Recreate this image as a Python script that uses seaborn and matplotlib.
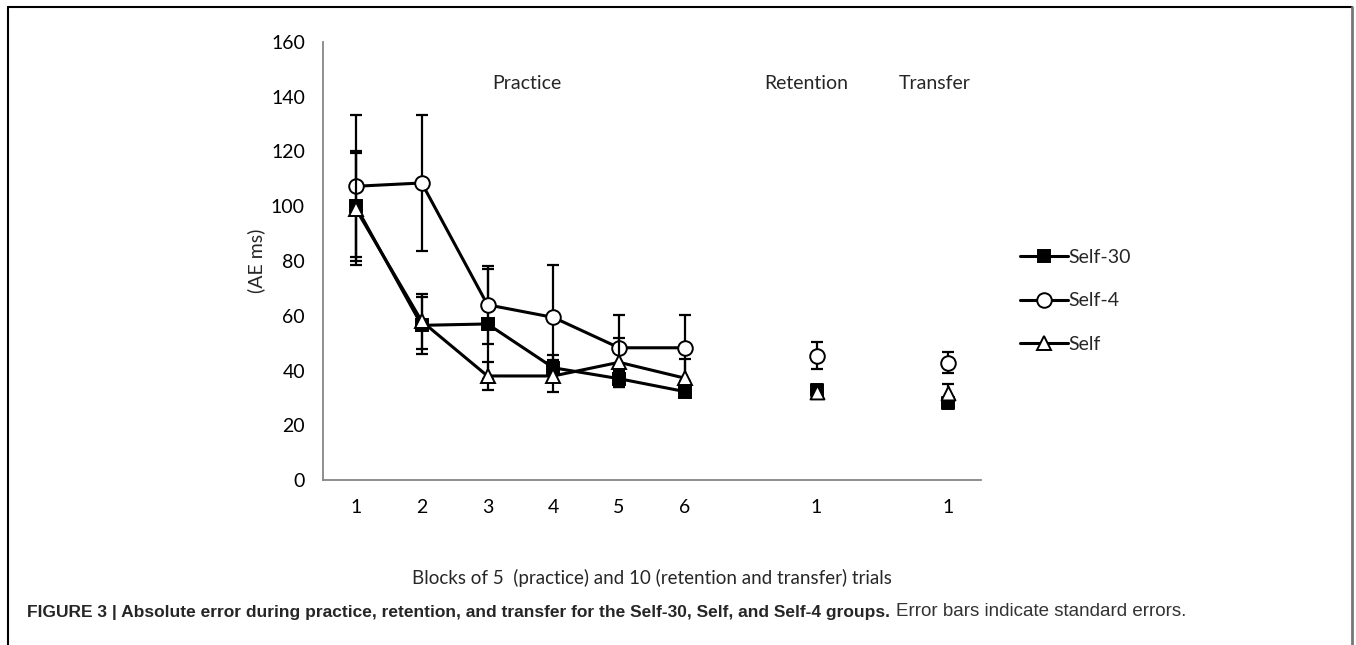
import numpy as np
import pandas as pd
import matplotlib
matplotlib.use('Agg')
import matplotlib.pyplot as plt
from matplotlib.lines import Line2D
import seaborn as sns

# Dữ liệu (AE ms)
groups = ['Self-30', 'Self-4', 'Self']
tick_labels = ['1', '2', '3', '4', '5', '6', '', '1', '', '1']
practice_pos = [0, 1, 2, 3, 4, 5]
test_pos = [7, 9]  # retention, transfer

practice_mean = {
    'Self-30': [100.0, 56.5, 57.0, 41.0, 37.0, 32.3],
    'Self-4': [107.3, 108.5, 64.0, 59.4, 48.3, 48.3],
    'Self': [99.0, 58.0, 38.0, 38.0, 43.0, 37.2],
}
practice_se = {
    'Self-30': [20.0, 10.5, 20.0, 4.5, 3.0, 1.5],
    'Self-4': [26.0, 25.0, 14.3, 19.0, 12.0, 12.0],
    'Self': [20.5, 10.0, 5.0, 6.0, 9.0, 7.0],
}
test_mean = {
    'Self-30': [33.0, 28.0],
    'Self-4': [45.4, 42.8],
    'Self': [32.0, 31.8],
}
test_se = {
    'Self-30': [1.0, 1.0],
    'Self-4': [5.0, 3.8],
    'Self': [1.0, 3.2],
}

markers = {'Self-30': 's', 'Self-4': 'o', 'Self': '^'}
mfc = {'Self-30': 'black', 'Self-4': 'white', 'Self': 'white'}
msize = {'Self-30': 8.5, 'Self-4': 10.5, 'Self': 10}

rows = []
for g in groups:
    for p, m, s in zip(practice_pos, practice_mean[g], practice_se[g]):
        rows.append({'group': g, 'pos': p, 'ae': m, 'se': s, 'phase': 'practice'})
    for p, m, s in zip(test_pos, test_mean[g], test_se[g]):
        rows.append({'group': g, 'pos': p, 'ae': m, 'se': s, 'phase': 'test'})
df = pd.DataFrame(rows)

sns.set_style('white')
plt.rcParams['font.family'] = ['Lato', 'DejaVu Sans']

fig = plt.figure(figsize=(13.56, 6.45), dpi=100)
ax = fig.add_axes([323 / 1356, 1 - 480 / 645, (981 - 323) / 1356, (480 - 42) / 645])

for z, g in enumerate(groups):
    sub = df[(df['group'] == g) & (df['phase'] == 'practice')]
    ax.errorbar(sub['pos'], sub['ae'], yerr=sub['se'], fmt='none',
                ecolor='black', elinewidth=1.6, capsize=4.5, capthick=1.6, zorder=2 + z)
    sns.lineplot(data=sub, x='pos', y='ae', ax=ax, color='black', linewidth=2.2,
                 marker=markers[g], markersize=msize[g], markerfacecolor=mfc[g],
                 markeredgecolor='black', markeredgewidth=1.4, zorder=2 + z,
                 errorbar=None, label=g)
    tst = df[(df['group'] == g) & (df['phase'] == 'test')]
    ax.errorbar(tst['pos'], tst['ae'], yerr=tst['se'], fmt='none',
                ecolor='black', elinewidth=1.6, capsize=4.5, capthick=1.6, zorder=2 + z)
    sns.scatterplot(data=tst, x='pos', y='ae', ax=ax, marker=markers[g],
                    s=msize[g] ** 2, color=mfc[g], edgecolor='black',
                    linewidth=1.4, zorder=3 + z, legend=False)

ax.set_xlim(-0.5, 9.5)
ax.set_ylim(0, 160)
ax.set_yticks(np.arange(0, 161, 20))
ax.set_xticks(range(len(tick_labels)))
ax.set_xticklabels(tick_labels)
ax.tick_params(axis='both', labelsize=14, colors='#868686', length=5, width=1,
               direction='out', labelcolor='black', pad=8)
ax.tick_params(axis='x', pad=9)
for side in ['top', 'right']:
    ax.spines[side].set_visible(False)
for side in ['left', 'bottom']:
    ax.spines[side].set_color('#868686')
    ax.spines[side].set_linewidth(1.3)

ax.set_xlabel('Blocks of 5  (practice) and 10 (retention and transfer) trials',
              fontsize=13.5, labelpad=38)
ax.set_ylabel('(AE ms)', fontsize=14, labelpad=4)

ax.text(2.6, 145, 'Practice', fontsize=14, ha='center', va='center')
ax.text(6.85, 145, 'Retention', fontsize=14, ha='center', va='center')
ax.text(8.8, 145, 'Transfer', fontsize=14, ha='center', va='center')

handles = [Line2D([0], [0], color='black', linewidth=2.2, marker=markers[g],
                  markersize=msize[g], markerfacecolor=mfc[g],
                  markeredgecolor='black', markeredgewidth=1.4) for g in groups]
if ax.get_legend():
    ax.get_legend().remove()
fig.legend(handles, groups, loc='center left', bbox_to_anchor=(1012 / 1356, 1 - 301 / 645),
           frameon=False, fontsize=14, handlelength=2.5, handletextpad=0.0,
           labelspacing=1.35, borderaxespad=0)

# khung bao quanh hình
fig.add_artist(Line2D([8 / 1356, 8 / 1356], [0, 1 - 7 / 645], color='black', linewidth=1.5,
                      transform=fig.transFigure))
fig.add_artist(Line2D([8 / 1356, 1352 / 1356], [1 - 7 / 645, 1 - 7 / 645], color='black',
                      linewidth=1.5, transform=fig.transFigure))
fig.add_artist(Line2D([1352 / 1356, 1352 / 1356], [0, 1 - 7 / 645], color='#777777',
                      linewidth=2, transform=fig.transFigure))

# chú thích hình
bold = fig.text(27 / 1356, 1 - 612 / 645,
                'FIGURE 3 | Absolute error during practice, retention, and transfer for the Self-30, Self, and Self-4 groups.',
                fontsize=12.5, fontweight='bold', family='Liberation Sans', va='center', ha='left')
fig.canvas.draw()
bb = bold.get_window_extent(fig.canvas.get_renderer())
fig.text((bb.x1 + 6) / 1356, 1 - 612 / 645, 'Error bars indicate standard errors.',
         fontsize=13.5, family='Liberation Sans', color='#333333', va='center', ha='left')

fig.savefig('out.png', dpi=100)
